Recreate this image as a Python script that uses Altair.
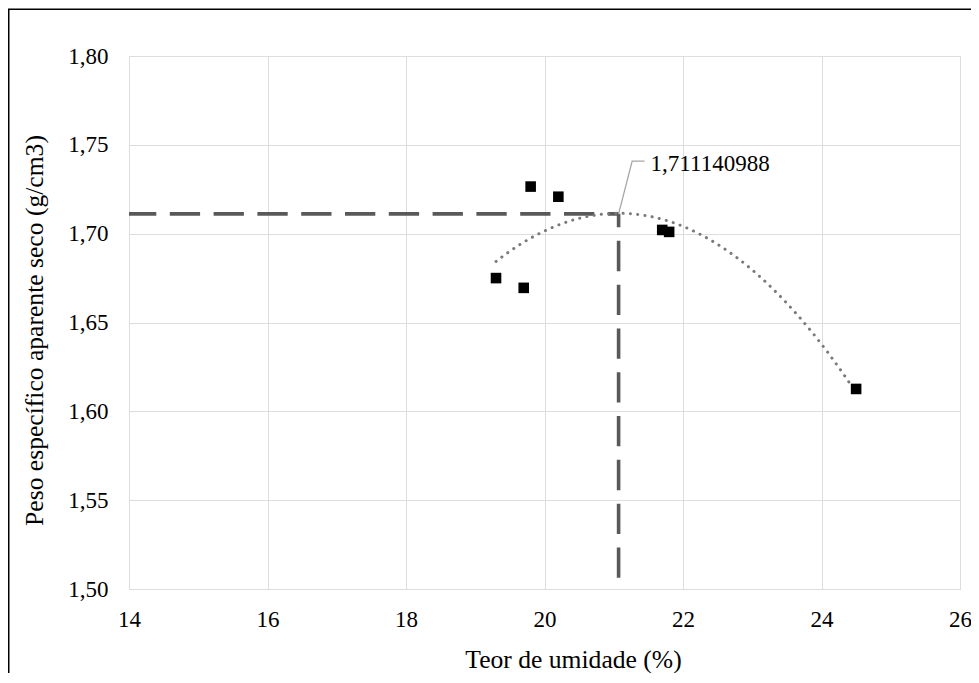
import altair as alt
import pandas as pd

# ---- data ----
moisture = [19.3, 19.7, 19.8, 20.2, 21.7, 21.8, 24.5]          # Teor de umidade (%)
density = [1.675, 1.6695, 1.7265, 1.7208, 1.7021, 1.7010, 1.6126]  # g/cm3
x_opt = 21.07             # optimum moisture
y_opt = 1.711140988       # max dry density (label)
x_ticks = [14, 16, 18, 20, 22, 24, 26]
y_ticks = [1.50, 1.55, 1.60, 1.65, 1.70, 1.75, 1.80]
# data-label leader anchor (data units)
leader_x = [21.07, 21.266, 21.445]
leader_y = [1.711140988, 1.7408, 1.7408]

pts = pd.DataFrame({"x": moisture, "y": density})
opt = pd.DataFrame({"x": [x_opt], "y": [y_opt], "x0": [x_ticks[0]], "y0": [y_ticks[0]]})
lead = pd.DataFrame({"x": leader_x, "y": leader_y, "o": [0, 1, 2]})

W, H = 831, 533
FONT = "Liberation Serif"

xs = alt.Scale(domain=[14, 26], nice=False)
ys = alt.Scale(domain=[1.5, 1.8], nice=False, zero=False)

xaxis = alt.Axis(values=x_ticks, title="Teor de umidade (%)", grid=True, ticks=False, tickSize=0,
                 domain=False, labelFont=FONT, labelFontSize=23, labelColor="#000000",
                 labelPadding=19.5, labelExpr="format(datum.value, 'd')",
                 titleFont=FONT, titleFontSize=25.6, titleFontWeight="normal", titleColor="#000000",
                 titleX=444, titleY=78, titleAlign="center", titleBaseline="alphabetic",
                 labelFlush=False)
yaxis = alt.Axis(values=y_ticks, title="Peso específico aparente seco (g/cm3)", grid=True, ticks=False,
                 tickSize=0, domain=False, labelFont=FONT, labelFontSize=23, labelColor="#000000",
                 labelPadding=21, labelExpr="replace(format(datum.value, '.2f'), '.', ',')",
                 titleFont=FONT, titleFontSize=25.6, titleFontWeight="normal", titleColor="#000000",
                 titleX=-87, titleY=274, titleAlign="center", titleBaseline="alphabetic",
                 titleAngle=-90, labelFlush=False)

base = alt.Chart(pts)

scatter = base.mark_point(shape="square", filled=True, size=112, color="#000000", opacity=1).encode(
    x=alt.X("x:Q", scale=xs, axis=xaxis),
    y=alt.Y("y:Q", scale=ys, axis=yaxis),
)

trend = base.transform_regression("x", "y", method="poly", order=2).mark_line(
    color="#7a7a7a", strokeWidth=3, strokeDash=[0.1, 7.2], strokeCap="round"
).encode(x=alt.X("x:Q", scale=xs, axis=xaxis), y=alt.Y("y:Q", scale=ys, axis=yaxis))

hline = alt.Chart(opt).mark_rule(color="#595959", strokeWidth=3.6, strokeDash=[30.3, 13.5],
                                 strokeDashOffset=3).encode(
    x=alt.X("x0:Q", scale=xs, axis=xaxis), x2="x:Q", y=alt.Y("y:Q", scale=ys, axis=yaxis))

vline = alt.Chart(opt).mark_rule(color="#595959", strokeWidth=3.6, strokeDash=[30.3, 13.5],
                                 strokeDashOffset=16.8).encode(
    x=alt.X("x:Q", scale=xs, axis=xaxis), y=alt.Y("y:Q", scale=ys, axis=yaxis), y2="y0:Q")

leader = alt.Chart(lead).mark_line(color="#a6a6a6", strokeWidth=1.3).encode(
    x=alt.X("x:Q", scale=xs, axis=xaxis), y=alt.Y("y:Q", scale=ys, axis=yaxis), order="o:Q")

label = alt.Chart(opt).transform_calculate(
    t="replace(format(datum.y, '.9f'), '.', ',')"
).mark_text(font=FONT, fontSize=23, align="left", baseline="alphabetic", color="#000000",
            dx=32, dy=-43).encode(
    x=alt.X("x:Q", scale=xs, axis=xaxis), y=alt.Y("y:Q", scale=ys, axis=yaxis), text="t:N")

frame_left = alt.Chart(opt).mark_rule(color="#000000", strokeWidth=1.5).encode(
    x=alt.value(-120.25), y=alt.value(-46.7), y2=alt.value(H + 200))
frame_top = alt.Chart(opt).mark_rule(color="#000000", strokeWidth=1.5).encode(
    x=alt.value(-121), x2=alt.value(W + 100), y=alt.value(-46.7))

chart = alt.layer(hline, vline, trend, leader, scatter, label, frame_left, frame_top).properties(
    width=W, height=H,
    autosize=alt.AutoSizeParams(type="none"),
    padding={"left": 121, "top": 48, "right": 11, "bottom": 84},
).configure_view(stroke=None).configure_axis(
    gridColor="#d9d9d9", gridWidth=1.3, labelFont=FONT, titleFont=FONT
).configure(background="#ffffff", font=FONT)

chart.save("out.html", embed_options={"renderer": "svg", "actions": False})
